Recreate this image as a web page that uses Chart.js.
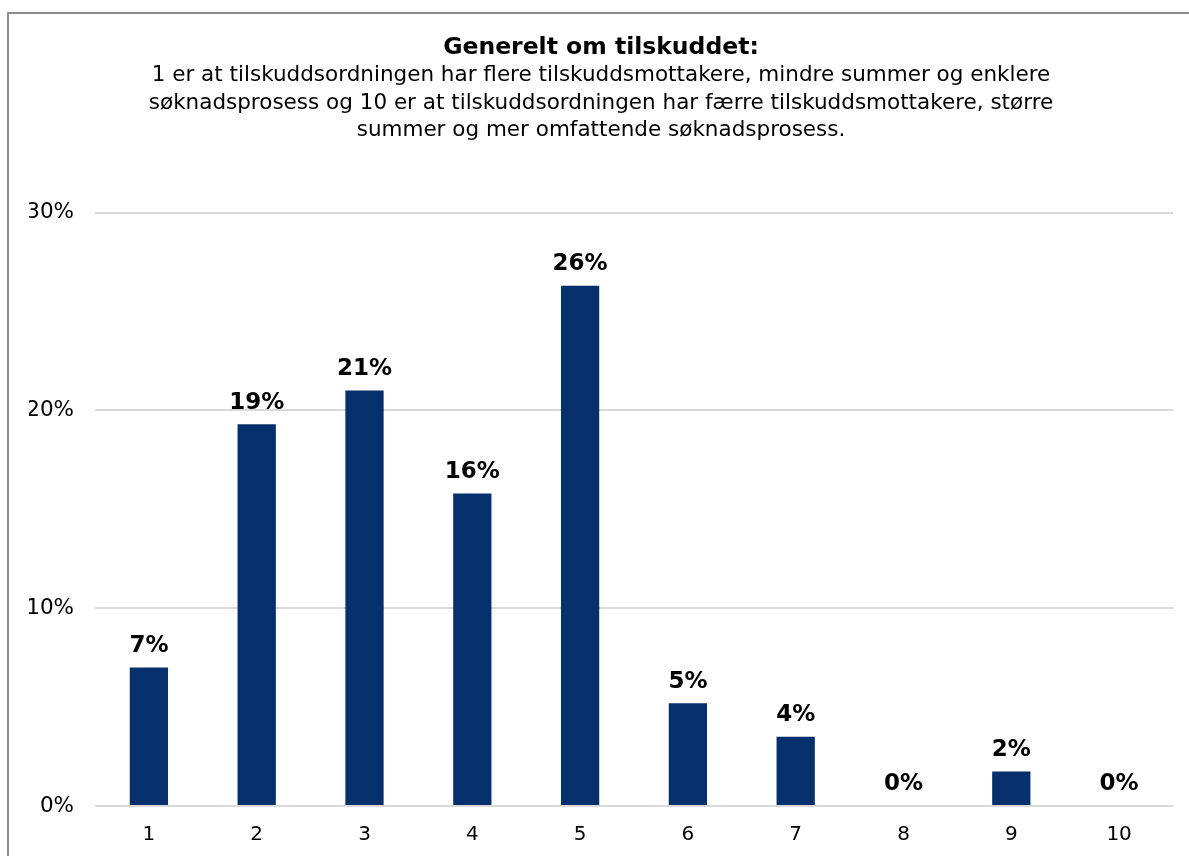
<!DOCTYPE html>
<html>
<head>
<meta charset="utf-8">
<script src="https://cdn.jsdelivr.net/npm/chart.js@4/dist/chart.umd.min.js"></script>
<style>
  html, body { margin: 0; padding: 0; background: #fff; overflow: hidden; }
  #frame { position: absolute; left: 7px; top: 12px; width: 1400px; height: 1000px; border: 2px solid #8c8c8c; box-sizing: border-box; }
  #c { position: absolute; left: 0; top: 0; }
</style>
</head>
<body>
<div id="frame"></div>
<canvas id="c" width="1189" height="856"></canvas>
<script>
// Score distribution 1–10, share of answers in percent
const categories = ["1", "2", "3", "4", "5", "6", "7", "8", "9", "10"];
const shares = [7.0, 19.3, 21.0, 15.8, 26.3, 5.2, 3.5, 0, 1.75, 0];
const yTicks = [0, 10, 20, 30];

const titleText = "Generelt om tilskuddet:";
const subtitleLines = [
  "1 er at tilskuddsordningen har flere tilskuddsmottakere, mindre summer og enklere",
  "søknadsprosess og 10 er at tilskuddsordningen har færre tilskuddsmottakere, større",
  "summer og mer omfattende søknadsprosess."
];

const FONT = "'DejaVu Sans', Verdana, sans-serif";
const BAR = "#05306b";

// value labels above each bar, rounded like the source
const barLabels = {
  id: "barLabels",
  afterDatasetsDraw(chart) {
    const ctx = chart.ctx;
    const meta = chart.getDatasetMeta(0);
    ctx.save();
    ctx.font = "bold 23px " + FONT;
    ctx.fillStyle = "#000";
    ctx.textAlign = "center";
    ctx.textBaseline = "bottom";
    meta.data.forEach((bar, i) => {
      ctx.fillText(Math.round(shares[i]) + "%", bar.x, bar.y - 10);
    });
    ctx.restore();
  }
};

new Chart(document.getElementById("c"), {
  type: "bar",
  data: {
    labels: categories,
    datasets: [{
      data: shares,
      backgroundColor: BAR,
      categoryPercentage: 1,
      barPercentage: 0.355
    }]
  },
  options: {
    responsive: false,
    animation: false,
    // left padding nudges the centred title toward the frame's middle
    layout: { padding: { left: 29, right: 16, top: 0, bottom: 0 } },
    plugins: {
      legend: { display: false },
      tooltip: { enabled: false },
      title: {
        display: true,
        text: titleText,
        color: "#000",
        font: { family: FONT, size: 23.5, weight: "bold", lineHeight: 24 / 23.5 },
        padding: { top: 36, bottom: 2 }
      },
      subtitle: {
        display: true,
        text: subtitleLines,
        color: "#000",
        font: { family: FONT, size: 21.5, lineHeight: 27.5 / 21.5 },
        padding: { top: 0, bottom: 68 }
      }
    },
    scales: {
      x: {
        afterFit: (s) => { s.height = 50; },
        grid: { display: false, drawTicks: false },
        border: { display: false },
        ticks: { color: "#000", font: { family: FONT, size: 20 }, padding: 17 }
      },
      y: {
        min: 0,
        max: 30,
        afterBuildTicks: (s) => { s.ticks = yTicks.map((v) => ({ value: v })); },
        afterFit: (s) => { s.width = 66; },
        grid: { color: "#d9d9d9", lineWidth: 2, drawTicks: false },
        border: { display: false },
        ticks: { color: "#000", font: { family: FONT, size: 21.5 }, padding: 21, callback: (v) => v + "%" }
      }
    }
  },
  plugins: [barLabels]
});
</script>
</body>
</html>
